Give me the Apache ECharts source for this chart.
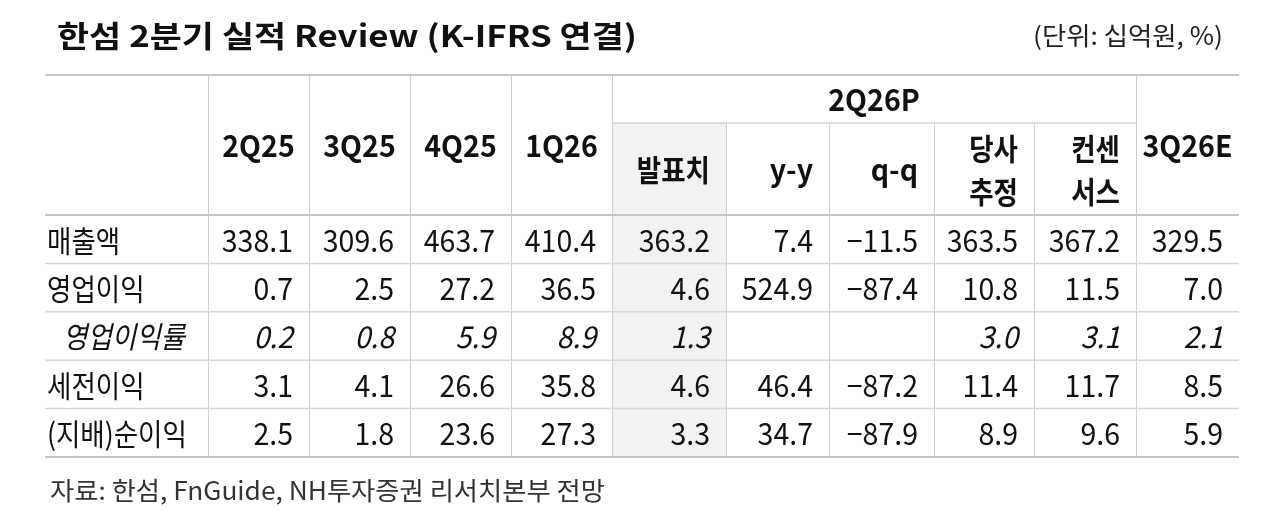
<!DOCTYPE html>
<html><head><meta charset="utf-8">
<script src="https://cdn.jsdelivr.net/npm/echarts@6/dist/echarts.min.js"></script>
<style>html,body{margin:0;padding:0;background:#fff}#c{width:1280px;height:516px}</style>
</head><body><div id="c"></div>
<script>
// ---- data ----
const titleText = '한섬 2분기 실적 Review (K-IFRS 연결)';
const unitText = '(단위: 십억원, %)';
const sourceText = '자료: 한섬, FnGuide, NH투자증권 리서치본부 전망';
const rowLabels = ['매출액', '영업이익', '영업이익률', '세전이익', '(지배)순이익'];
const italicRows = ['영업이익률'];
const periodHeaders = ['2Q25', '3Q25', '4Q25', '1Q26'];
const groupHeader = '2Q26P';
const subHeaders = ['발표치', 'y-y', 'q-q', '당사\n추정', '컨센\n서스'];
const nextHeader = '3Q26E';
const v2Q25 = [338.1, 0.7, 0.2, 3.1, 2.5];
const v3Q25 = [309.6, 2.5, 0.8, 4.1, 1.8];
const v4Q25 = [463.7, 27.2, 5.9, 26.6, 23.6];
const v1Q26 = [410.4, 36.5, 8.9, 35.8, 27.3];
const v2Q26Actual = [363.2, 4.6, 1.3, 4.6, 3.3];
const v2Q26Yoy = [7.4, 524.9, null, 46.4, 34.7];
const v2Q26Qoq = [-11.5, -87.4, null, -87.2, -87.9];
const v2Q26Ours = [363.5, 10.8, 3.0, 11.4, 8.9];
const v2Q26Cons = [367.2, 11.5, 3.1, 11.7, 9.6];
const v3Q26E = [329.5, 7.0, 2.1, 8.5, 5.9];

// ---- layout (styles, not data) ----
const colWeights = [163, 101, 101, 101, 101, 114, 103, 105, 100, 102, 103];
const headBands = [48, 92];
const rowUnit = 48.4;
const FAM = '"Noto Sans CJK KR", "Noto Sans", sans-serif';
const fsV = 30;          // vertical glyph size
const fsKo = 26.5;       // horizontal size of Korean text
const fsLat = 28.5;      // horizontal size of numbers / latin text
const shadeCol = 5;
const padR = 16;

const colEdge = [0];
colWeights.forEach(w => colEdge.push(colEdge[colEdge.length - 1] + w));
const headEnd = headBands[0] + headBands[1];
const totalH = headEnd + rowLabels.length * rowUnit;
const lastCol = colWeights.length - 1;

const valueCols = [v2Q25, v3Q25, v4Q25, v1Q26, v2Q26Actual, v2Q26Yoy, v2Q26Qoq, v2Q26Ours, v2Q26Cons, v3Q26E];
const fmt = v => v == null ? '' : (v < 0 ? '\u2212' + Math.abs(v).toFixed(1) : v.toFixed(1));

const cells = [];
function add(c0, c1, y0, y1, text, o) {
  cells.push(Object.assign({ x0: colEdge[c0], x1: colEdge[c1 + 1], y0, y1, text }, o));
}
add(0, 0, 0, headEnd, '', { right: true, top: 'thick', bottom: 'thick' });
periodHeaders.forEach((h, i) => add(1 + i, 1 + i, 0, headEnd, h, { bold: true, align: 'center', right: true, top: 'thick', bottom: 'thick' }));
add(5, 9, 0, headBands[0], groupHeader, { bold: true, align: 'center', right: true, top: 'thick', bottom: 'thin' });
subHeaders.forEach((h, i) => add(5 + i, 5 + i, headBands[0], headEnd, h, { bold: true, align: 'right', right: true, bottom: 'thick', fill: (5 + i) === shadeCol }));
add(10, 10, 0, headEnd, nextHeader, { bold: true, align: 'center', top: 'thick', bottom: 'thick' });
rowLabels.forEach((lab, r) => {
  const y0 = headEnd + r * rowUnit, y1 = y0 + rowUnit;
  const it = italicRows.includes(lab);
  const last = r === rowLabels.length - 1;
  add(0, 0, y0, y1, lab, { align: 'left', indent: it ? 18 : 2, italic: it, right: true, bottom: last ? 'thick' : 'row' });
  valueCols.forEach((arr, k) => {
    const col = k + 1;
    add(col, col, y0, y1, fmt(arr[r]), { align: 'right', italic: it, right: col !== lastCol, bottom: last ? 'thick' : 'row', fill: col === shadeCol });
  });
});

const lineStyles = {
  thick: { stroke: '#c6c6c6', lineWidth: 2 },
  thin: { stroke: '#d4d4d4', lineWidth: 1.5 },
  row: { stroke: '#d8d8d8', lineWidth: 1.5 },
  vert: { stroke: '#cfcfcf', lineWidth: 1 }
};
const isKo = t => /[\uAC00-\uD7AF]/.test(t);

function renderItem(params, api) {
  const c = cells[params.dataIndex];
  const p0 = api.coord([api.value(0), api.value(1)]);
  const p1 = api.coord([api.value(2), api.value(3)]);
  const x0 = p0[0], y0 = p0[1], x1 = p1[0], y1 = p1[1];
  const ch = [];
  if (c.fill) ch.push({ type: 'rect', z2: 0, shape: { x: x0, y: y0, width: x1 - x0, height: y1 - y0 }, style: { fill: '#f2f2f2' } });
  if (c.right) ch.push({ type: 'line', z2: 1, shape: { x1: Math.round(x1) + 0.5, y1: y0, x2: Math.round(x1) + 0.5, y2: y1 }, style: lineStyles.vert });
  if (c.top) ch.push({ type: 'line', z2: 2, shape: { x1: x0, y1: y0, x2: x1, y2: y0 }, style: lineStyles[c.top] });
  if (c.bottom) ch.push({ type: 'line', z2: 2, shape: { x1: x0, y1: y1, x2: x1, y2: y1 }, style: lineStyles[c.bottom] });
  if (c.text) {
    let tx, align = c.align;
    if (align === 'center') tx = (x0 + x1) / 2;
    else if (align === 'right') tx = x1 - padR;
    else tx = x0 + (c.indent || 0);
    const sx = (isKo(c.text) ? fsKo : fsLat) / fsV;
    ch.push({ type: 'text', z2: 3, x: tx, y: (y0 + y1) / 2 + 1, scaleX: sx, scaleY: 1, style: {
      text: c.text, fill: '#111', fontSize: fsV, fontFamily: FAM,
      fontWeight: c.bold ? 'bold' : 'normal', fontStyle: c.italic ? 'italic' : 'normal',
      align: align, verticalAlign: 'middle', lineHeight: 43 } });
  }
  return { type: 'group', children: ch };
}

// fit free texts to their measured widths in the reference layout
const mctx = document.createElement('canvas').getContext('2d');
function fit(text, weight, size, target) {
  mctx.font = weight + ' ' + size + 'px ' + FAM;
  return target / mctx.measureText(text).width;
}
const titleSX = fit(titleText, 'bold', 30, 580);
const unitSX = fit(unitText, 'normal', 25, 190);
const srcSX = fit(sourceText, 'normal', 25, 555);

const chart = echarts.init(document.getElementById('c'), null, { renderer: 'canvas' });
chart.setOption({
  backgroundColor: '#fff',
  animation: false,
  graphic: [
    { type: 'text', x: 57, y: 36, scaleX: titleSX, silent: true, style: { text: titleText, font: 'bold 30px ' + FAM, fill: '#111', align: 'left', verticalAlign: 'middle' } },
    { type: 'text', x: 1223, y: 35, scaleX: unitSX, silent: true, style: { text: unitText, font: 'normal 25px ' + FAM, fill: '#222', align: 'right', verticalAlign: 'middle' } },
    { type: 'text', x: 50, y: 490, scaleX: srcSX, silent: true, style: { text: sourceText, font: 'normal 25px ' + FAM, fill: '#333', align: 'left', verticalAlign: 'middle' } }
  ],
  grid: { left: 45, right: 41, top: 75, bottom: 59 },
  xAxis: { type: 'value', min: 0, max: colEdge[colEdge.length - 1], show: false },
  yAxis: { type: 'value', min: 0, max: totalH, inverse: true, show: false },
  series: [{
    type: 'custom', clip: false, silent: true,
    renderItem: renderItem,
    data: cells.map(c => [c.x0, c.y0, c.x1, c.y1])
  }]
});
</script></body></html>
